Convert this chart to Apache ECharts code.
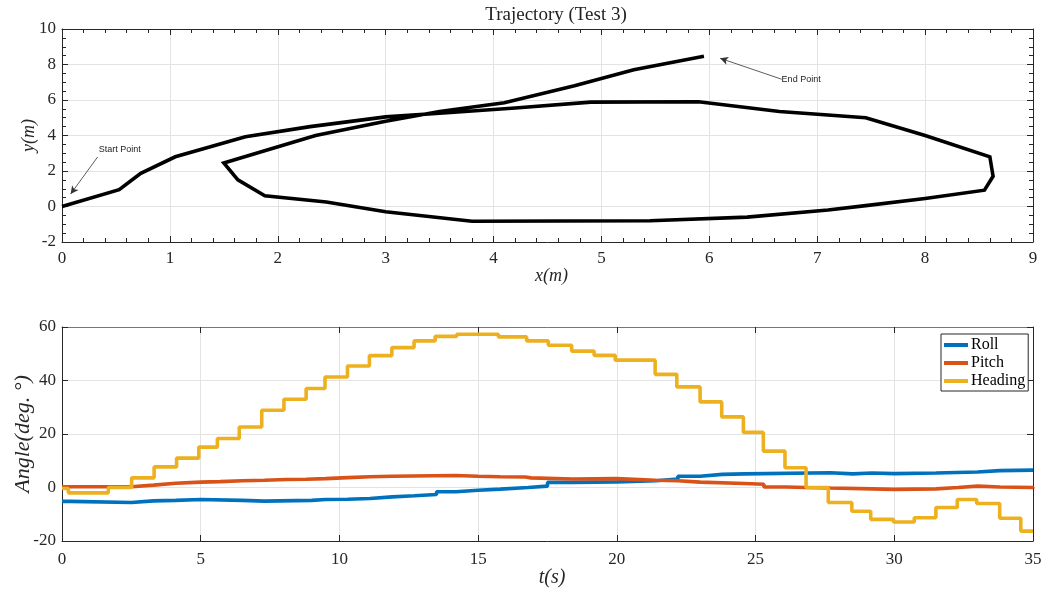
<!DOCTYPE html>
<html><head><meta charset="utf-8">
<script src="https://cdn.jsdelivr.net/npm/echarts@6/dist/echarts.min.js"></script>
<style>html,body{margin:0;padding:0;background:#fff}#c{width:1053px;height:592px}</style>
</head><body><div id="c"></div>
<script>
// ---- Trajectory data (x, y in metres) ----
const trajX = [0, 0.53, 0.73, 1.05, 1.7, 2.3, 3.0, 3.6, 4.2, 4.9, 5.9, 6.65, 7.45, 8.0, 8.6, 8.63, 8.55, 8.0, 7.45, 7.1, 6.35, 5.45, 3.8, 3.0, 2.45, 1.88, 1.63, 1.5, 2.35, 3.0, 3.5, 4.1, 4.75, 5.3, 5.95];
const trajY = [0, 0.95, 1.87, 2.8, 3.93, 4.5, 5.05, 5.3, 5.55, 5.88, 5.9, 5.35, 5.0, 4.0, 2.8, 1.7, 0.92, 0.45, 0.05, -0.2, -0.6, -0.8, -0.83, -0.3, 0.25, 0.6, 1.5, 2.45, 4.0, 4.8, 5.35, 5.85, 6.8, 7.7, 8.47];
// annotation arrows (data coordinates: tail -> head) and label anchors
const startArrow = [[0.33, 2.79], [0.08, 0.7]];
const endArrow = [[6.67, 7.17], [6.1, 8.35]];
const startLabel = [0.34, 3.2];
const endLabel = [6.67, 7.17];

// ---- Angle data (t in s, angle in deg) ----
const rollT = [0, 0.3, 2.5, 3.3, 4.1, 5.0, 6.5, 7.3, 9.0, 9.5, 10.3, 11.1, 11.9, 12.7, 13.5, 14.2, 15.0, 15.8, 16.8, 17.5, 18.4, 20.0, 21.4, 22.2, 23.0, 23.8, 24.6, 27.7, 28.5, 29.2, 30.0, 31.5, 33.0, 33.8, 35];
const rollV = [-5.2, -5.6, -5.0, -4.8, -4.5, -4.8, -5.1, -4.8, -4.5, -4.4, -4.1, -3.5, -3.1, -2.6, -1.6, -1.0, -0.6, 0.0, 0.5, 1.9, 2.1, 2.5, 3.2, 4.2, 4.9, 5.1, 5.5, 5.1, 5.4, 5.2, 5.4, 5.8, 6.3, 6.5, 6.3];
const pitchT = [0, 2.5, 3.3, 4.1, 5.0, 5.7, 6.5, 7.3, 8.1, 8.8, 9.5, 10.3, 11.1, 11.9, 13.4, 14.2, 15.0, 15.8, 16.7, 16.9, 18.4, 20.0, 21.4, 22.2, 23.0, 24.6, 25.3, 26.1, 26.8, 27.7, 29.2, 30.0, 31.5, 32.3, 33.0, 33.8, 35];
const pitchV = [0.3, 0.9, 1.6, 2.0, 2.2, 2.5, 2.7, 3.0, 3.1, 3.3, 3.7, 4.0, 4.2, 4.4, 4.5, 4.2, 4.0, 3.9, 3.6, 3.2, 3.3, 2.7, 2.5, 2.0, 1.5, 1.2, 0.2, 0.0, -0.2, -0.5, -0.7, -0.5, 0.0, 0.5, 0.2, 0.0, -0.4];
const headT = [0, 0.23, 1.67, 2.51, 3.32, 4.13, 4.93, 5.6, 6.39, 7.2, 8.0, 8.8, 9.48, 10.29, 11.08, 11.89, 12.69, 13.45, 14.23, 15.73, 16.75, 17.53, 18.37, 19.18, 19.94, 21.38, 22.16, 23.0, 23.78, 24.56, 25.28, 26.06, 26.82, 27.62, 28.47, 29.15, 29.97, 30.72, 31.5, 32.27, 32.97, 33.8, 34.56, 35];
const headV = [-0.4, -2.0, 0.0, 3.6, 7.7, 11.0, 15.1, 18.3, 22.6, 28.9, 33.0, 37.0, 41.3, 45.4, 49.3, 52.3, 54.8, 56.5, 57.3, 56.3, 54.8, 53.2, 51.0, 49.4, 47.6, 42.3, 37.6, 32.0, 26.4, 20.6, 13.6, 7.4, 0.0, -5.6, -8.9, -11.9, -12.9, -11.3, -7.5, -4.5, -6.0, -11.5, -16.3, -16.3];

const seriesNames = ['Roll', 'Pitch', 'Heading'];
const seriesColors = ['#0072BD', '#D95319', '#EDB120'];

const zip = (a, b) => a.map((v, i) => [v, b[i]]);
const AX = '#262626';
const GRIDC = '#e3e3e3';
const SERIF = 'Liberation Serif';
const tickFont = { fontFamily: SERIF, fontSize: 17, color: '#262626' };

function axisBase(extra) {
  return Object.assign({
    type: 'value',
    nameMoveOverlap: false,
    axisLine: { show: true, onZero: false, lineStyle: { color: AX, width: 1 } },
    axisTick: { show: true, inside: true, length: 6, lineStyle: { color: AX } },
    splitLine: { show: false },
    axisLabel: { show: false }
  }, extra);
}

const chart = echarts.init(document.getElementById('c'), null, { renderer: 'canvas' });
chart.setOption({
  animation: false,
  backgroundColor: '#fff',
  title: {
    text: 'Trajectory (Test 3)', left: 551, top: 1, textAlign: 'center',
    textStyle: { fontFamily: SERIF, fontSize: 19, fontWeight: 'normal', color: '#222' }
  },
  legend: {
    data: seriesNames, orient: 'vertical', left: 941, top: 334,
    icon: 'rect', itemWidth: 24, itemHeight: 4, itemGap: 2,
    padding: [3, 3, 2, 3], backgroundColor: '#fff',
    borderColor: AX, borderWidth: 1, borderRadius: 0,
    textStyle: { fontFamily: SERIF, fontSize: 16, color: '#000', padding: [0, 0, 0, -2], lineHeight: 16 }
  },
  grid: [
    { left: 62, top: 29, width: 971, height: 213, containLabel: false, outerBoundsMode: 'none' },
    { left: 62, top: 327, width: 971, height: 214, containLabel: false, outerBoundsMode: 'none' }
  ],
  xAxis: [
    axisBase({ gridIndex: 0, position: 'bottom', min: 0, max: 9, interval: 1,
      minorTick: { show: true, splitNumber: 5, length: 4, lineStyle: { color: AX } },
      axisLabel: Object.assign({ show: true, margin: 8 }, tickFont),
      splitLine: { show: true, lineStyle: { color: GRIDC, width: 1 } },
      name: 'x(m)', nameLocation: 'middle', nameGap: 25,
      nameTextStyle: { fontFamily: SERIF, fontStyle: 'italic', fontSize: 18, color: '#262626', padding: [0, 0, 0, 8] } }),
    axisBase({ gridIndex: 0, position: 'top', min: 0, max: 9, interval: 1,
      minorTick: { show: true, splitNumber: 5, length: 4, lineStyle: { color: AX } } }),
    axisBase({ gridIndex: 1, position: 'bottom', min: 0, max: 35, interval: 5,
      axisLabel: Object.assign({ show: true, margin: 10 }, tickFont),
      splitLine: { show: true, lineStyle: { color: GRIDC, width: 1 } },
      name: 't(s)', nameLocation: 'middle', nameGap: 27,
      nameTextStyle: { fontFamily: SERIF, fontStyle: 'italic', fontSize: 20, color: '#262626', padding: [0, 0, 0, 9] } }),
    axisBase({ gridIndex: 1, position: 'top', min: 0, max: 35, interval: 5,
      axisLine: { show: true, onZero: false, lineStyle: { color: '#777', width: 1 } } })
  ],
  yAxis: [
    axisBase({ gridIndex: 0, position: 'left', min: -2, max: 10, interval: 2,
      minorTick: { show: true, splitNumber: 4, length: 4, lineStyle: { color: AX } },
      axisLabel: Object.assign({ show: true, margin: 6 }, tickFont),
      splitLine: { show: true, lineStyle: { color: GRIDC, width: 1 } },
      name: 'y(m)', nameLocation: 'middle', nameGap: 24, nameRotate: 90,
      nameTextStyle: { fontFamily: SERIF, fontStyle: 'italic', fontSize: 18, color: '#262626' } }),
    axisBase({ gridIndex: 0, position: 'right', min: -2, max: 10, interval: 2,
      minorTick: { show: true, splitNumber: 4, length: 4, lineStyle: { color: AX } } }),
    axisBase({ gridIndex: 1, position: 'left', min: -20, max: 60, interval: 20,
      axisLabel: Object.assign({ show: true, margin: 6 }, tickFont),
      splitLine: { show: true, lineStyle: { color: GRIDC, width: 1 } },
      name: 'Angle(deg. °)', nameLocation: 'middle', nameGap: 28, nameRotate: 90,
      nameTextStyle: { fontFamily: SERIF, fontStyle: 'italic', fontSize: 22, color: '#262626' } }),
    axisBase({ gridIndex: 1, position: 'right', min: -20, max: 60, interval: 20 })
  ],
  series: [
    {
      type: 'line', xAxisIndex: 0, yAxisIndex: 0, data: zip(trajX, trajY),
      showSymbol: false, symbol: 'none', silent: true,
      lineStyle: { color: '#000', width: 3.6, join: 'miter' },
      markLine: {
        silent: true, symbol: ['none', 'arrow'], symbolSize: [6, 8], animation: false,
        lineStyle: { color: '#333', width: 0.8, type: 'solid' }, label: { show: false },
        data: [
          [{ coord: startArrow[0] }, { coord: startArrow[1] }],
          [{ coord: endArrow[0] }, { coord: endArrow[1] }]
        ]
      },
      markPoint: {
        silent: true, symbol: 'circle', symbolSize: 0, animation: false,
        label: { show: true, position: 'right', distance: 0, formatter: '{b}',
          fontFamily: 'Liberation Sans', fontSize: 9, color: '#222' },
        data: [
          { name: 'Start Point', coord: startLabel },
          { name: 'End Point', coord: endLabel }
        ]
      }
    },
    { name: seriesNames[0], type: 'line', xAxisIndex: 2, yAxisIndex: 2, data: zip(rollT, rollV), step: 'end',
      showSymbol: false, symbol: 'none', color: seriesColors[0], lineStyle: { width: 3.6, color: seriesColors[0] } },
    { name: seriesNames[1], type: 'line', xAxisIndex: 2, yAxisIndex: 2, data: zip(pitchT, pitchV), step: 'end',
      showSymbol: false, symbol: 'none', color: seriesColors[1], lineStyle: { width: 3.6, color: seriesColors[1] } },
    { name: seriesNames[2], type: 'line', xAxisIndex: 2, yAxisIndex: 2, data: zip(headT, headV), step: 'end',
      showSymbol: false, symbol: 'none', color: seriesColors[2], lineStyle: { width: 3.6, color: seriesColors[2] } }
  ]
});
</script></body></html>
